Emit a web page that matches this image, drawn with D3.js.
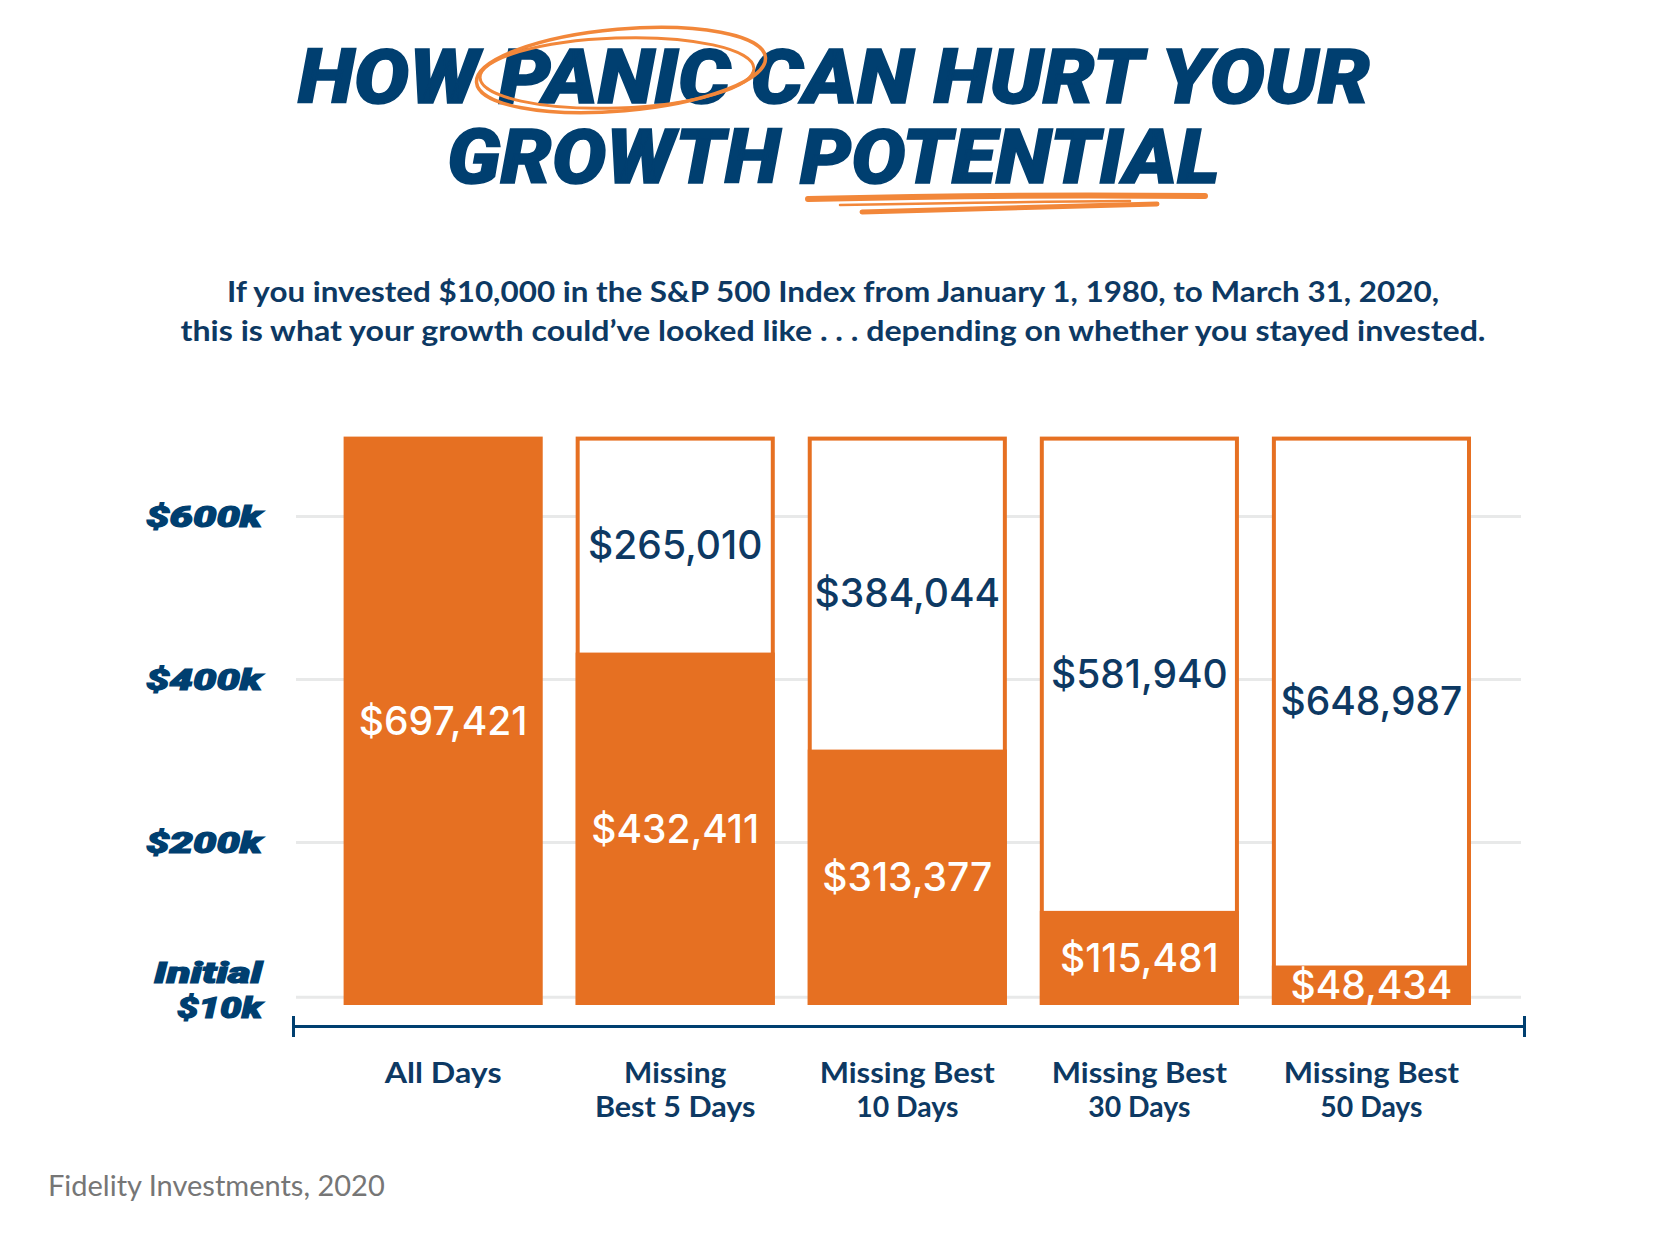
<!DOCTYPE html>
<html>
<head>
<meta charset="utf-8">
<script src="https://cdn.jsdelivr.net/npm/d3@7"></script>
<style>
  html, body { margin: 0; padding: 0; background: #fff; }
  svg { display: block; }
</style>
</head>
<body>
<svg id="chart" width="1668" height="1250"></svg>
<script>
// ---- data ----
const categories = ["All Days", "Missing Best 5 Days", "Missing Best 10 Days", "Missing Best 30 Days", "Missing Best 50 Days"];
const categoryLines = [["All Days"], ["Missing", "Best 5 Days"], ["Missing Best", "10 Days"], ["Missing Best", "30 Days"], ["Missing Best", "50 Days"]];
const endingValues = [697421, 432411, 313377, 115481, 48434];
const missedGrowth = [0, 265010, 384044, 581940, 648987];
const tickValues = [10000, 200000, 400000, 600000];
const tickLabels = [["Initial", "$10k"], ["$200k"], ["$400k"], ["$600k"]];
const titleLines = ["HOW PANIC CAN HURT YOUR", "GROWTH POTENTIAL"];
const subtitleLines = ["If you invested $10,000 in the S&P 500 Index from January 1, 1980, to March 31, 2020,",
                       "this is what your growth could\u2019ve looked like . . . depending on whether you stayed invested."];
const sourceNote = "Fidelity Investments, 2020";

// ---- style ----
const NAVY = "#003f70";
const NAVY_TXT = "#0d3963";
const ORANGE = "#e67022";
const SCRIBBLE = "#f2873a";
const GRID = "#e8e9e9";

const rows = categories.map((c, i) => ({
  cat: c, lines: categoryLines[i], end: endingValues[i], missed: missedGrowth[i]
}));

const svg = d3.select("#chart");
const fmt = d3.format("$,");

const x = d3.scaleBand().domain(categories).range([343.6, 1471]).paddingInner(0.142).paddingOuter(0);
const y = d3.scaleLinear().domain([0, 600000]).range([1005, 516]);

// ---- title ----
const titleG = svg.append("g");
titleG.append("text").attr("x", 298).attr("y", 103).attr("textLength", 1072).attr("lengthAdjust", "spacingAndGlyphs")
  .text(titleLines[0]);
titleG.append("text").attr("x", 447).attr("y", 183).attr("textLength", 773).attr("lengthAdjust", "spacingAndGlyphs")
  .text(titleLines[1]);
titleG.selectAll("text")
  .attr("font-family", "Roboto, Lato, sans-serif").attr("font-weight", 900).attr("font-style", "italic")
  .attr("font-size", 76).attr("fill", NAVY).attr("stroke", NAVY).attr("stroke-width", 1.5);

// scribble circle around "PANIC"
const scrib = svg.append("g").attr("fill", "none").attr("stroke", SCRIBBLE).attr("stroke-linecap", "round");
scrib.append("ellipse").attr("cx", 621).attr("cy", 70).attr("rx", 145).attr("ry", 41)
  .attr("transform", "rotate(-5 621 70)").attr("stroke-width", 3.5);
scrib.append("ellipse").attr("cx", 617).attr("cy", 73).attr("rx", 137).attr("ry", 35)
  .attr("transform", "rotate(-2 617 73)").attr("stroke-width", 3);
// underline under "POTENTIAL"
scrib.append("path").attr("d", "M808,199 Q1000,194 1205,196").attr("stroke-width", 6);
scrib.append("path").attr("d", "M862,212 Q1000,208 1157,204").attr("stroke-width", 5);
scrib.append("path").attr("d", "M840,205 Q1000,202 1130,201").attr("stroke-width", 2.5);

// ---- subtitle ----
svg.append("g").selectAll("text").data(subtitleLines).join("text")
  .attr("x", 833).attr("y", (d, i) => 302 + i * 39)
  .attr("text-anchor", "middle")
  .attr("textLength", (d, i) => i === 0 ? 1212 : 1305).attr("lengthAdjust", "spacingAndGlyphs")
  .attr("font-family", "Lato, sans-serif").attr("font-weight", 700).attr("font-size", 28)
  .attr("fill", NAVY_TXT).text(d => d);

// ---- gridlines + y labels ----
const yAxis = d3.axisLeft(y).tickValues(tickValues).tickSize(-(1521 - 296)).tickFormat("");
const yg = svg.append("g").attr("transform", "translate(296,0)").call(yAxis);
yg.select(".domain").remove();
yg.selectAll(".tick line").attr("stroke", GRID).attr("stroke-width", 3);
yg.selectAll(".tick text").remove();

const ylab = svg.append("g").selectAll("text").data(tickValues).join("text")
  .attr("text-anchor", "end")
  .attr("font-family", "Roboto, Lato, sans-serif").attr("font-weight", 900).attr("font-style", "italic")
  .attr("font-size", 29).attr("fill", NAVY).attr("stroke", NAVY).attr("stroke-width", 1.2);
ylab.each(function (d, i) {
  const lines = tickLabels[i];
  const t = d3.select(this);
  const baseY = lines.length > 1 ? y(d) - 14 : y(d) + 11;
  lines.forEach((ln, j) => {
    const widthFor = ln.length >= 5 ? (ln.startsWith("$") ? 116 : 108) : 85;
    t.append("tspan").attr("x", 262).attr("y", baseY + j * 35)
      .attr("textLength", widthFor).attr("lengthAdjust", "spacingAndGlyphs").text(ln);
  });
});

// ---- bars ----
const bars = svg.append("g").selectAll("g").data(rows).join("g");
// outlined (missed growth) portion
bars.filter(d => d.missed > 0).append("rect")
  .attr("x", d => x(d.cat) + 2)
  .attr("y", d => y(d.end + d.missed) + 2)
  .attr("width", x.bandwidth() - 4)
  .attr("height", d => y(0) - y(d.end + d.missed) - 4)
  .attr("fill", "#fff").attr("stroke", ORANGE).attr("stroke-width", 4);
// ending value portion
bars.append("rect")
  .attr("x", d => x(d.cat))
  .attr("y", d => y(d.end))
  .attr("width", x.bandwidth())
  .attr("height", d => y(0) - y(d.end))
  .attr("fill", ORANGE);

// value labels
bars.append("text")
  .attr("x", d => x(d.cat) + x.bandwidth() / 2)
  .attr("y", d => (y(d.end) + y(0)) / 2)
  .attr("dy", "0.36em").attr("text-anchor", "middle")
  .attr("font-family", "Inter, 'Open Sans', sans-serif").attr("font-weight", 500).attr("font-size", 39)
  .attr("fill", "#fff")
  .text(d => fmt(d.end));
bars.filter(d => d.missed > 0).append("text")
  .attr("x", d => x(d.cat) + x.bandwidth() / 2)
  .attr("y", d => (y(d.end + d.missed) + y(d.end)) / 2)
  .attr("dy", "0.36em").attr("text-anchor", "middle")
  .attr("font-family", "Inter, 'Open Sans', sans-serif").attr("font-weight", 500).attr("font-size", 39)
  .attr("fill", NAVY_TXT)
  .text(d => fmt(d.missed));

// ---- bottom axis line ----
const axisG = svg.append("g").attr("stroke", NAVY).attr("stroke-width", 3);
axisG.append("line").attr("x1", 293.5).attr("x2", 1524.5).attr("y1", 1026.5).attr("y2", 1026.5);
axisG.append("line").attr("x1", 293.5).attr("x2", 293.5).attr("y1", 1016).attr("y2", 1037);
axisG.append("line").attr("x1", 1524.5).attr("x2", 1524.5).attr("y1", 1016).attr("y2", 1037);

// category labels
const catG = svg.append("g").selectAll("text").data(rows).join("text")
  .attr("text-anchor", "middle")
  .attr("font-family", "Lato, sans-serif").attr("font-weight", 700).attr("font-size", 28)
  .attr("fill", NAVY_TXT);
catG.each(function (d) {
  const t = d3.select(this);
  d.lines.forEach((ln, j) => {
    t.append("tspan").attr("x", x(d.cat) + x.bandwidth() / 2).attr("y", 1083 + j * 34)
      .attr("textLength", ln.length * 14.6).attr("lengthAdjust", "spacingAndGlyphs").text(ln);
  });
});

// source
svg.append("text").attr("x", 48).attr("y", 1196)
  .attr("font-family", "Lato, sans-serif").attr("font-weight", 400).attr("font-size", 29)
  .attr("fill", "#767676").text(sourceNote);
</script>
</body>
</html>
